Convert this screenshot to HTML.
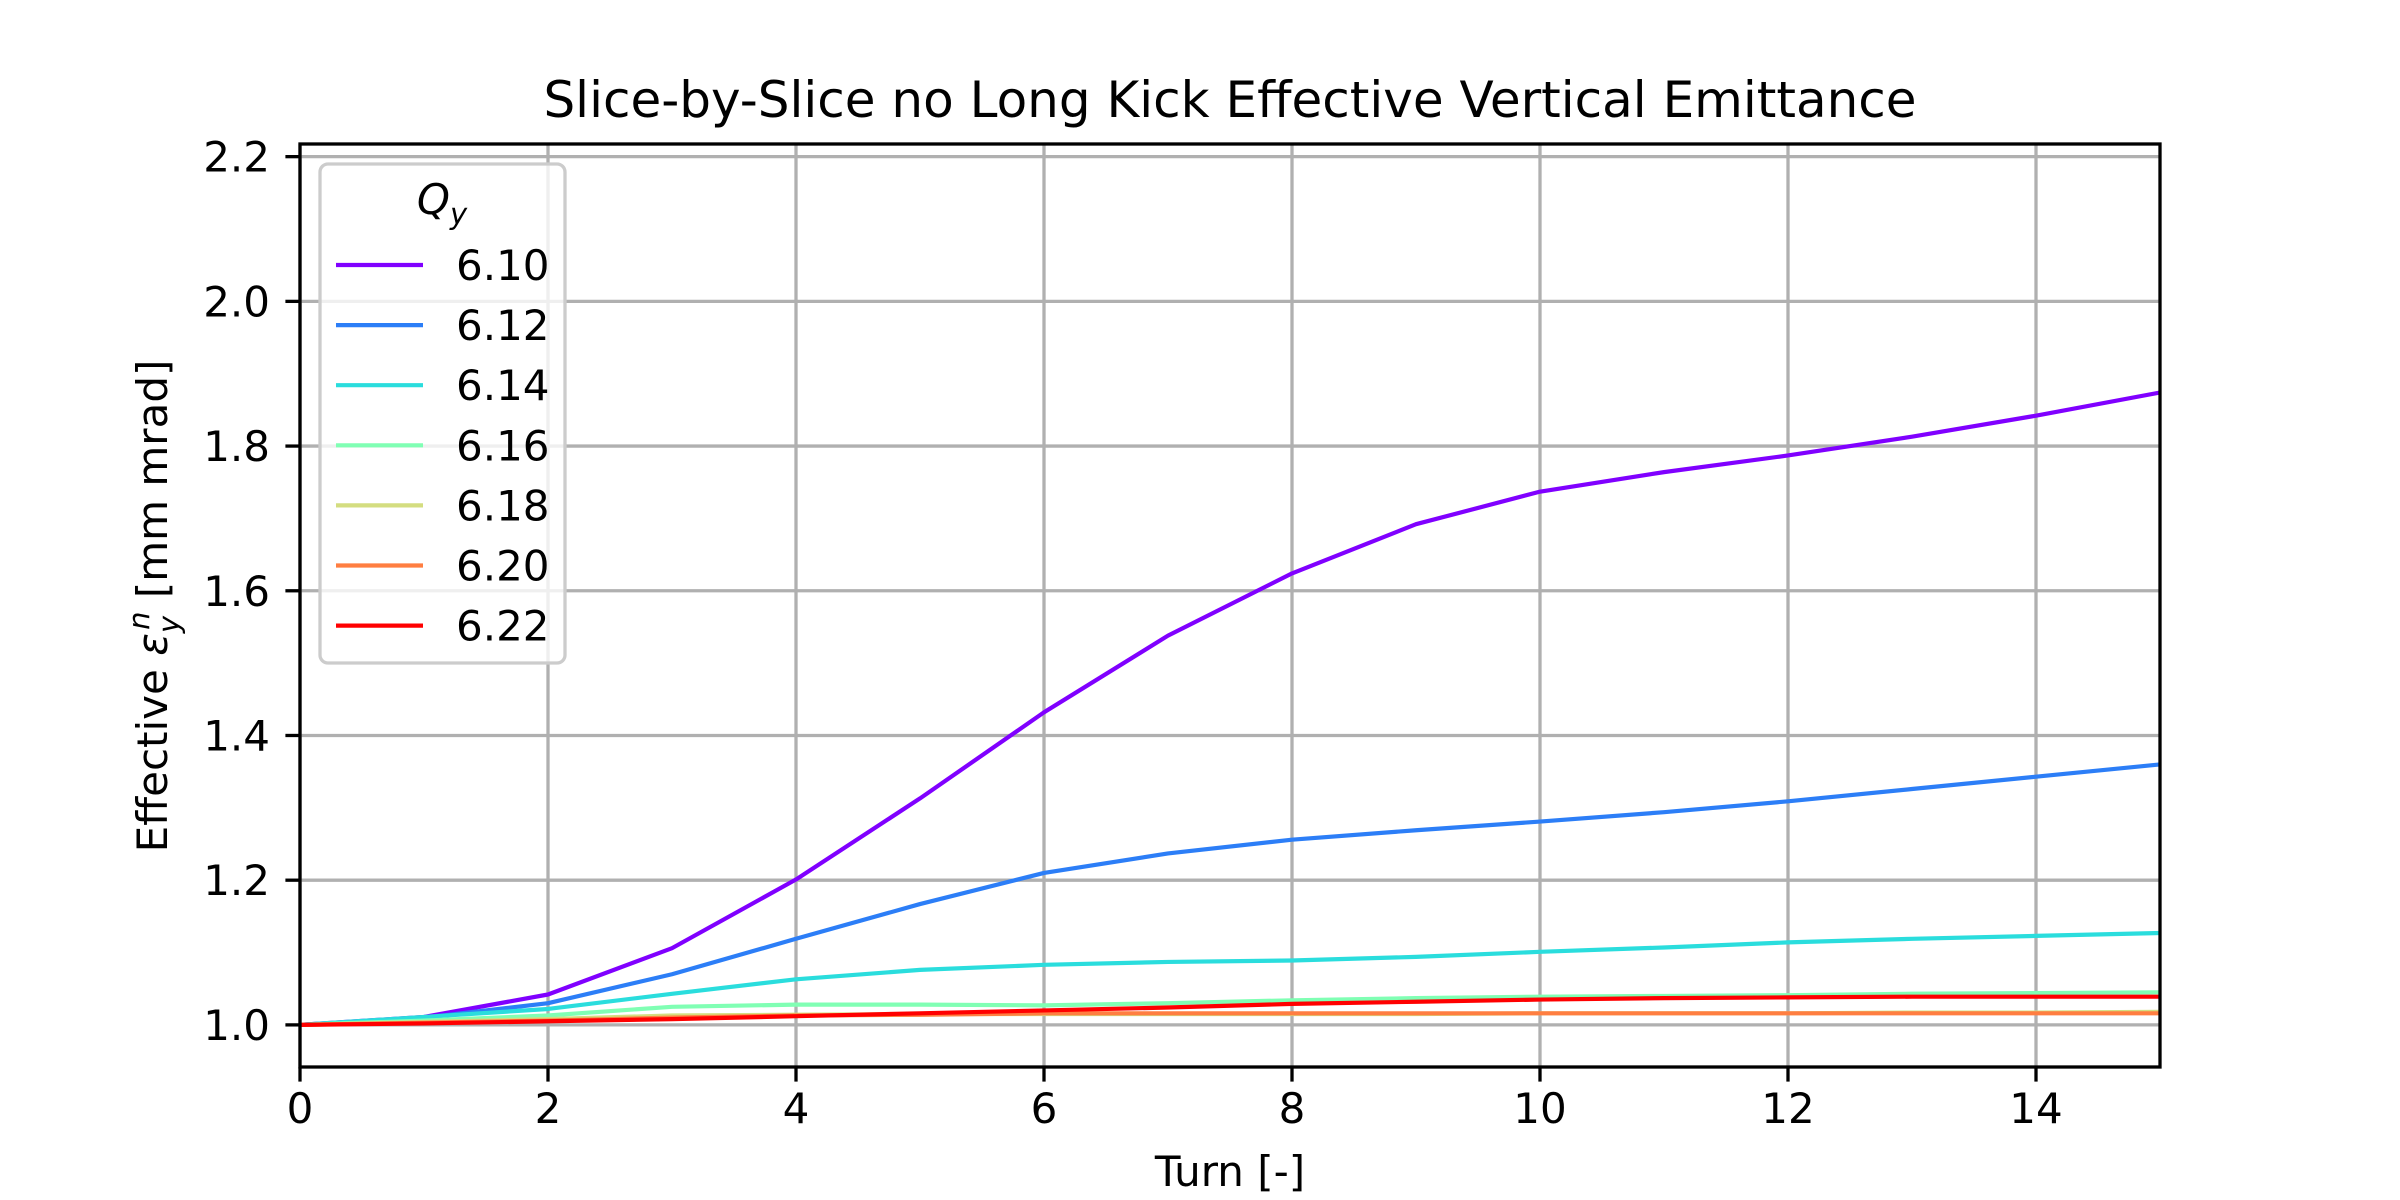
<!DOCTYPE html>
<html><head><meta charset="utf-8"><style>
html,body{margin:0;padding:0;background:#fff;}
svg{display:block;font-family:"DejaVu Sans","Liberation Sans",sans-serif;}
</style></head><body>
<svg id="chart" width="2400" height="1200" viewBox="0 0 2400 1200" xmlns="http://www.w3.org/2000/svg">
<rect width="2400" height="1200" fill="#fff"/>
<text x="1230" y="117" font-size="50" text-anchor="middle">Slice-by-Slice no Long Kick Effective Vertical Emittance</text>
<g id="grid"></g>
<g id="series"></g>
<rect x="300" y="144" width="1860" height="923" fill="none" stroke="#000" stroke-width="3.3"/>
<g id="ticks"></g>
<text x="1230" y="1186" font-size="42" text-anchor="middle">Turn [-]</text>
<text transform="translate(167,606) rotate(-90)" font-size="42" text-anchor="middle">Effective <tspan font-style="italic">ε</tspan><tspan font-style="italic" font-size="29" dy="12">y</tspan><tspan font-style="italic" font-size="29" dy="-30" dx="-14">n</tspan><tspan dy="18"> [mm mrad]</tspan></text>
<g id="legend"></g>
</svg>
<script>
const turns = [0,1,2,3,4,5,6,7,8,9,10,11,12,13,14,15];
const qLabels = ["6.10","6.12","6.14","6.16","6.18","6.20","6.22"];
const colors = ["#8000ff","#2c7ef7","#2adddd","#80ffb4","#d4dd80","#ff7e41","#ff0000"];
const s610 = [1.0,1.011,1.042,1.106,1.201,1.313,1.432,1.538,1.624,1.692,1.737,1.764,1.787,1.813,1.842,1.874];
const s612 = [1.0,1.010,1.030,1.070,1.119,1.167,1.210,1.237,1.256,1.269,1.281,1.294,1.309,1.326,1.343,1.360];
const s614 = [1.0,1.011,1.022,1.043,1.063,1.076,1.083,1.087,1.089,1.094,1.101,1.107,1.114,1.119,1.123,1.127];
const s616 = [1.0,1.006,1.013,1.025,1.028,1.028,1.027,1.030,1.034,1.037,1.039,1.040,1.041,1.043,1.044,1.045];
const s618 = [1.0,1.004,1.008,1.013,1.014,1.015,1.015,1.015,1.015,1.015,1.016,1.016,1.016,1.017,1.017,1.018];
const s620 = [1.0,1.003,1.006,1.010,1.013,1.014,1.016,1.016,1.016,1.016,1.016,1.016,1.016,1.016,1.016,1.016];
const s622 = [1.0,1.002,1.005,1.008,1.012,1.016,1.020,1.024,1.029,1.032,1.035,1.037,1.038,1.039,1.039,1.039];
const seriesData = [s610,s612,s614,s616,s618,s620,s622];
const xTicks = [0,2,4,6,8,10,12,14];
const yTicks = [1.0,1.2,1.4,1.6,1.8,2.0,2.2];

const NS="http://www.w3.org/2000/svg";
const X0=300,X1=2160,Y0=144,Y1=1067;
const xMin=0,xMax=15,yMin=0.9418,yMax=2.2175;
const xs=v=>X0+(v-xMin)/(xMax-xMin)*(X1-X0);
const ys=v=>Y1-(v-yMin)/(yMax-yMin)*(Y1-Y0);
function mk(tag,attrs,parent){const e=document.createElementNS(NS,tag);for(const k in attrs)e.setAttribute(k,attrs[k]);parent.appendChild(e);return e;}
const grid=document.getElementById('grid'),ticks=document.getElementById('ticks'),ser=document.getElementById('series'),leg=document.getElementById('legend');
xTicks.forEach(t=>{
  const g=mk('line',{x1:xs(t),x2:xs(t),y1:Y0,y2:Y1,stroke:'#b0b0b0','stroke-width':3.3},grid);
  
  
  const tk=mk('line',{x1:xs(t),x2:xs(t),y1:Y1,y2:Y1+14.6,stroke:'#000','stroke-width':3.3},ticks);
  
  
  const lb=mk('text',{x:xs(t),y:Y1+56,'font-size':42,'text-anchor':'middle'},ticks);
  lb.textContent=String(t);
  
  
});
yTicks.forEach(t=>{
  const g=mk('line',{x1:X0,x2:X1,y1:ys(t),y2:ys(t),stroke:'#b0b0b0','stroke-width':3.3},grid);
  
  
  const tk=mk('line',{x1:X0-14.6,x2:X0,y1:ys(t),y2:ys(t),stroke:'#000','stroke-width':3.3},ticks);
  
  
  const lb=mk('text',{x:270,y:ys(t)+15,'font-size':42,'text-anchor':'end'},ticks);
  lb.textContent=t.toFixed(1);
  
  
});
seriesData.forEach((d,i)=>{
  const p=mk('polyline',{points:d.map((v,j)=>xs(turns[j])+','+ys(v)).join(' '),fill:'none',stroke:colors[i],'stroke-width':4.2,'stroke-linejoin':'round'},ser);
  
  
});
const box=mk('rect',{x:320,y:164,width:245,height:499,rx:8,fill:'#fff','fill-opacity':0.8,stroke:'#cccccc','stroke-width':3.3},leg);


const tt=mk('text',{x:442,y:214,'font-size':42,'font-style':'italic','text-anchor':'middle'},leg);
tt.innerHTML='Q<tspan font-size="29" dy="10">y</tspan>';


qLabels.forEach((q,i)=>{
  const y=265+i*60.1;
  const l=mk('line',{x1:336,x2:423,y1:y,y2:y,stroke:colors[i],'stroke-width':4.2},leg);
  
  
  const t=mk('text',{x:456,y:y+15,'font-size':42},leg);
  t.textContent=q;
  
  
});
</script>
</body></html>
